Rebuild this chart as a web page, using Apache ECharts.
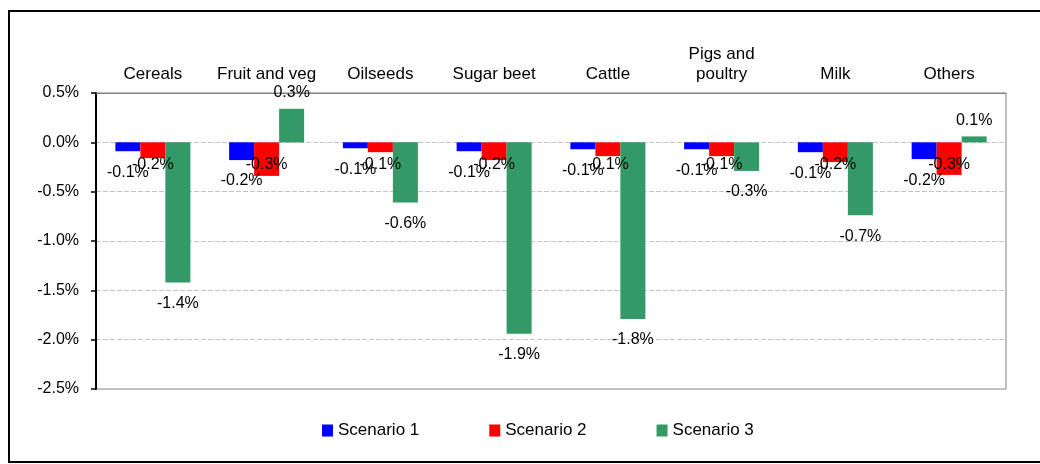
<!DOCTYPE html>
<html>
<head>
<meta charset="utf-8">
<script src="https://cdn.jsdelivr.net/npm/echarts@6/dist/echarts.min.js"></script>
<style>
html,body{margin:0;padding:0;background:#fff;}
#chart{width:1040px;height:464px;}
</style>
</head>
<body>
<div id="chart"></div>
<script>
var categories = ['Cereals', 'Fruit and veg', 'Oilseeds', 'Sugar beet', 'Cattle', 'Pigs and\npoultry', 'Milk', 'Others'];
var seriesNames = ['Scenario 1', 'Scenario 2', 'Scenario 3'];
var scenario1 = [-0.09, -0.18, -0.06, -0.09, -0.07, -0.07, -0.10, -0.17];
var scenario2 = [-0.16, -0.34, -0.10, -0.18, -0.14, -0.14, -0.20, -0.33];
var scenario3 = [-1.42, 0.34, -0.61, -1.94, -1.79, -0.29, -0.74, 0.06];
var yTicks = { min: -2.5, max: 0.5, interval: 0.5 };

var FONT = '"Liberation Sans", Arial, sans-serif';
function fmt(p) { return p.value.toFixed(1) + '%'; }

function outsideData(arr) {
  return arr.map(function (v) {
    return { value: v, label: { distance: v < 0 ? 13 : 8 } };
  });
}

function barSeries(name, data, color, label) {
  return {
    name: name,
    type: 'bar',
    barWidth: 25,
    barGap: '0%',
    data: data,
    itemStyle: { color: color },
    label: Object.assign({
      show: true,
      color: '#000',
      fontFamily: FONT,
      fontSize: 16,
      formatter: fmt
    }, label)
  };
}

var chart = echarts.init(document.getElementById('chart'), null, { renderer: 'canvas' });
chart.setOption({
  animation: false,
  backgroundColor: '#fff',
  graphic: [{
    type: 'rect',
    shape: { x: 9, y: 11, width: 1100, height: 451 },
    style: { fill: 'none', stroke: '#000', lineWidth: 2 },
    silent: true,
    z: 100
  }],
  grid: {
    left: 96, right: 34, top: 93, bottom: 75,
    show: true, borderColor: '#808080', borderWidth: 1, backgroundColor: 'transparent'
  },
  legend: {
    data: seriesNames,
    left: 317,
    top: 417,
    icon: 'rect',
    itemWidth: 11,
    itemHeight: 12,
    itemGap: 70,
    textStyle: { fontFamily: FONT, fontSize: 17, color: '#000' }
  },
  xAxis: {
    type: 'category',
    data: categories,
    position: 'top',
    axisLine: { show: true, onZero: false, lineStyle: { color: '#808080', width: 1 } },
    axisTick: { show: false },
    axisLabel: {
      interval: 0,
      margin: 9,
      fontFamily: FONT,
      fontSize: 17,
      lineHeight: 20,
      color: '#000'
    },
    splitLine: { show: false }
  },
  yAxis: {
    type: 'value',
    min: yTicks.min,
    max: yTicks.max,
    interval: yTicks.interval,
    axisLine: { show: true, lineStyle: { color: '#000', width: 2 } },
    axisTick: { show: true, length: 5, lineStyle: { color: '#000', width: 1.5 } },
    axisLabel: {
      margin: 17,
      fontFamily: FONT,
      fontSize: 16,
      color: '#000',
      formatter: function (v) { return v.toFixed(1) + '%'; }
    },
    splitLine: { show: true, lineStyle: { color: '#c4c4c4', type: [5, 2], width: 1 } }
  },
  series: [
    barSeries(seriesNames[0], outsideData(scenario1), '#0000ff', { position: 'outside' }),
    barSeries(seriesNames[1], scenario2, '#ff0000', { position: 'insideTop', distance: 14 }),
    barSeries(seriesNames[2], outsideData(scenario3), '#339966', { position: 'outside' })
  ]
});
</script>
</body>
</html>
